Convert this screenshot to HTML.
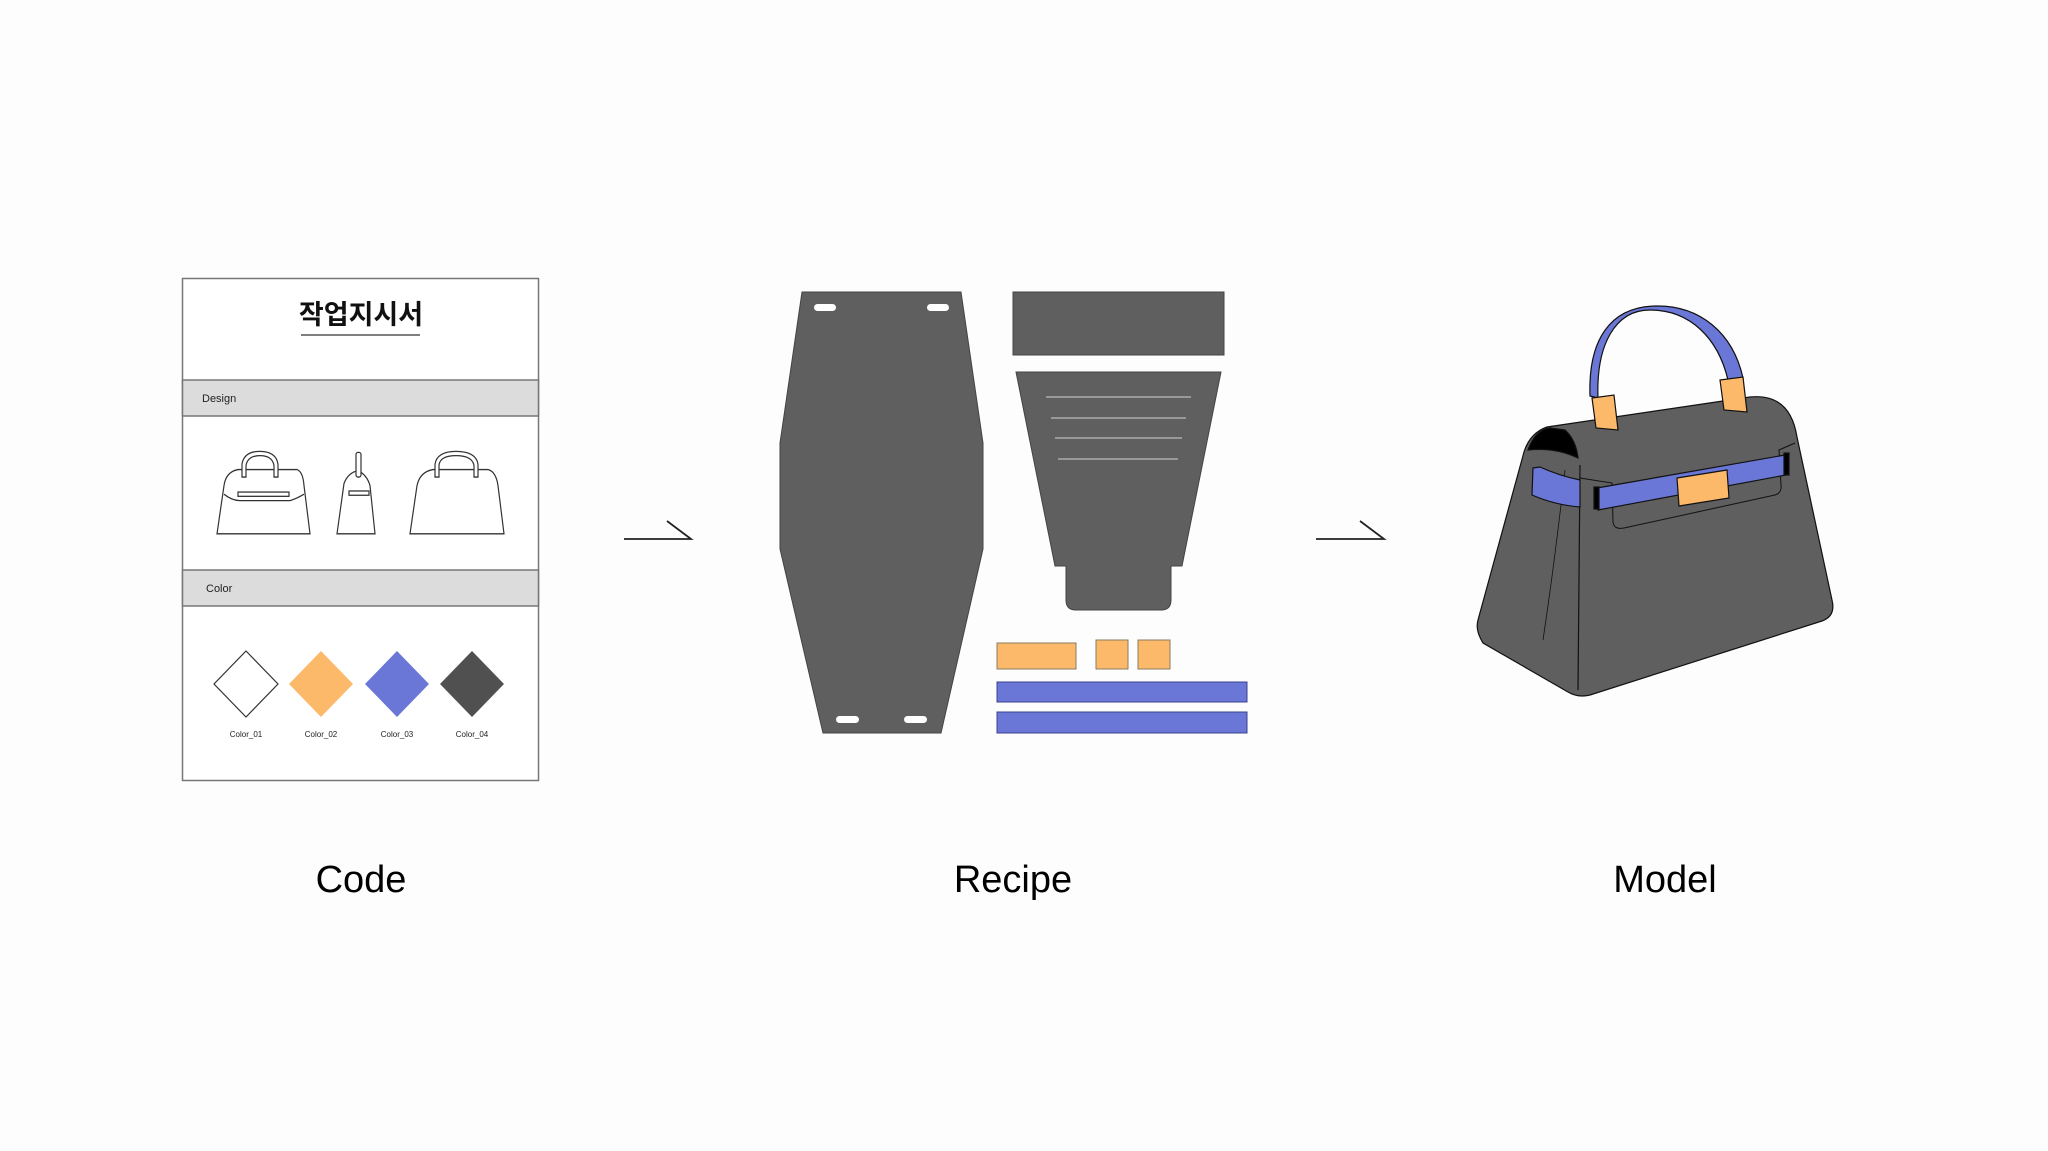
<!DOCTYPE html>
<html><head><meta charset="utf-8"><style>
html,body{margin:0;padding:0;background:#fdfdfd;}
svg{display:block;}
</style></head><body>
<svg width="2048" height="1151" viewBox="0 0 2048 1151" xmlns="http://www.w3.org/2000/svg" font-family="Liberation Sans, sans-serif">
<rect width="2048" height="1151" fill="#fdfdfd"/>
<!-- Code card -->
<rect x="182.5" y="278.5" width="356" height="502" fill="#fff" stroke="#777" stroke-width="1.5"/>
<text x="361" y="324" text-anchor="middle" font-size="27" font-weight="bold" font-family="Liberation Sans, Noto Sans CJK KR, sans-serif" fill="#111">작업지시서</text>
<line x1="301" y1="335" x2="420" y2="335" stroke="#333" stroke-width="1.2"/>
<rect x="182.5" y="380" width="356" height="36" fill="#dcdcdc" stroke="#777" stroke-width="1.5"/>
<text x="202" y="402" font-size="11" fill="#222">Design</text>
<rect x="182.5" y="570" width="356" height="36" fill="#dcdcdc" stroke="#777" stroke-width="1.5"/>
<text x="206" y="592" font-size="11" fill="#222">Color</text>
<!-- design bags -->
<g fill="#fff" stroke="#333" stroke-width="1.2" transform="matrix(1 0 0 1.071 0 -17.75)">
<path d="M217,515 L224,470 Q226,457 238,455 L297,455 Q303,457 304,470 L310,515 Z"/>
<path d="M242,462 L242,450 Q244,438 260,438 Q276,438 278,450 L278,462 L274,462 L274,451 Q272,442 260,442 Q248,442 246,451 L246,462 Z"/>
<path d="M224,478 Q232,484 240,484 L290,484 Q297,482 304,478"/>
<rect x="238" y="476" width="51" height="4"/>
<path d="M337,515 L344,468 Q348,458 358,456 Q367,460 370,470 L375,515 Z"/>
<rect x="356" y="439" width="5" height="23" rx="2"/>
<rect x="349" y="475" width="20" height="4"/>
<path d="M410,515 L417,470 Q420,457 433,455 L488,455 Q496,457 498,470 L504,515 Z"/>
<path d="M435,462 L435,450 Q437,438 456,438 Q476,438 478,450 L478,462 L474,462 L474,451 Q472,442 456,442 Q440,442 439,451 L439,462 Z"/>
</g>
<!-- diamonds -->
<polygon points="246,651 278,684 246,717 214,684" fill="#fff" stroke="#333" stroke-width="1.2"/>
<polygon points="321,651 353,684 321,717 289,684" fill="#fdb96a"/>
<polygon points="397,651 429,684 397,717 365,684" fill="#6a77d6"/>
<polygon points="472,651 504,684 472,717 440,684" fill="#505050"/>
<g font-size="8" fill="#222" text-anchor="middle">
<text x="246" y="737">Color_01</text><text x="321" y="737">Color_02</text><text x="397" y="737">Color_03</text><text x="472" y="737">Color_04</text>
</g>
<!-- arrows -->
<g stroke="#222" stroke-width="1.8" fill="none">
<path d="M624,539 L691,539 L667,521"/>
<path d="M1316,539 L1384,539 L1360,521"/>
</g>
<!-- Recipe -->
<g fill="#5f5f5f" stroke="#444" stroke-width="1">
<polygon points="802,292 961,292 983,443 983,549 941,733 823,733 780,549 780,443"/>
<rect x="1013" y="292" width="211" height="63"/>
<path d="M1016,372 L1221,372 L1182,566 L1171,566 L1171,600 Q1171,610 1161,610 L1076,610 Q1066,610 1066,600 L1066,566 L1055,566 Z"/>
</g>
<g fill="#fff">
<rect x="814" y="304" width="22" height="7" rx="3.5"/><rect x="927" y="304" width="22" height="7" rx="3.5"/>
<rect x="836" y="716" width="23" height="7" rx="3.5"/><rect x="904" y="716" width="23" height="7" rx="3.5"/>
</g>
<g stroke="#bbb" stroke-width="1.2">
<line x1="1046" y1="397" x2="1191" y2="397"/><line x1="1051" y1="418" x2="1186" y2="418"/>
<line x1="1055" y1="438" x2="1182" y2="438"/><line x1="1058" y1="459" x2="1178" y2="459"/>
</g>
<g fill="#fdb96a" stroke="#8a7a60" stroke-width="1">
<rect x="997" y="643" width="79" height="26"/><rect x="1096" y="640" width="32" height="29"/><rect x="1138" y="640" width="32" height="29"/>
</g>
<g fill="#6a77d6" stroke="#3a4290" stroke-width="1">
<rect x="997" y="682" width="250" height="20"/><rect x="997" y="712" width="250" height="21"/>
</g>
<!-- Model bag -->
<g stroke="#111" stroke-width="1.2">
<path d="M1483,643 Q1475,630 1478,620 L1524,452 Q1530,433 1547,427 L1750,397 Q1790,393 1797,437 L1832,600 Q1836,616 1822,621 L1590,695 Q1578,698 1568,692 Z" fill="#5f5f5f"/>
<path d="M1528,450 Q1535,430 1550,428 L1565,430 Q1576,440 1578,458 Q1555,447 1528,450 Z" fill="#000"/>
<path d="M1580,465 L1578,690" fill="none"/>
<path d="M1565,470 Q1555,560 1543,640" fill="none" stroke-width="0.8"/>
<path d="M1580,478 L1612,483 L1613,522 Q1614,530 1624,528 L1775,495 Q1782,493 1781,485 L1779,450 L1795,443" fill="none" stroke-width="1"/>
<path d="M1533,468 L1540,467 Q1560,476 1580,480 L1580,507 Q1555,505 1532,495 Z" fill="#6a77d6"/>
<path d="M1597,488 L1785,455 L1786,475 L1598,510 Z" fill="#6a77d6"/>
<rect x="1594" y="487" width="5" height="22" fill="#000"/>
<rect x="1784" y="453" width="5" height="22" fill="#000"/>
<polygon points="1677,478 1727,470 1729,498 1679,506" fill="#fdb96a"/>
<path d="M1598,398 C1596,345 1615,310 1650,310 C1690,310 1718,338 1728,380 L1743,378 C1733,333 1700,305 1655,306 C1610,307 1588,340 1590,396 Z" fill="#6a77d6"/>
<polygon points="1592,398 1614,395 1618,430 1596,428" fill="#fdb96a"/>
<polygon points="1720,380 1743,377 1747,412 1724,410" fill="#fdb96a"/>
</g>
<!-- labels -->
<g font-size="38" fill="#000" text-anchor="middle">
<text x="361" y="892">Code</text>
<text x="1013" y="892">Recipe</text>
<text x="1665" y="892">Model</text>
</g>
</svg>
</body></html>
